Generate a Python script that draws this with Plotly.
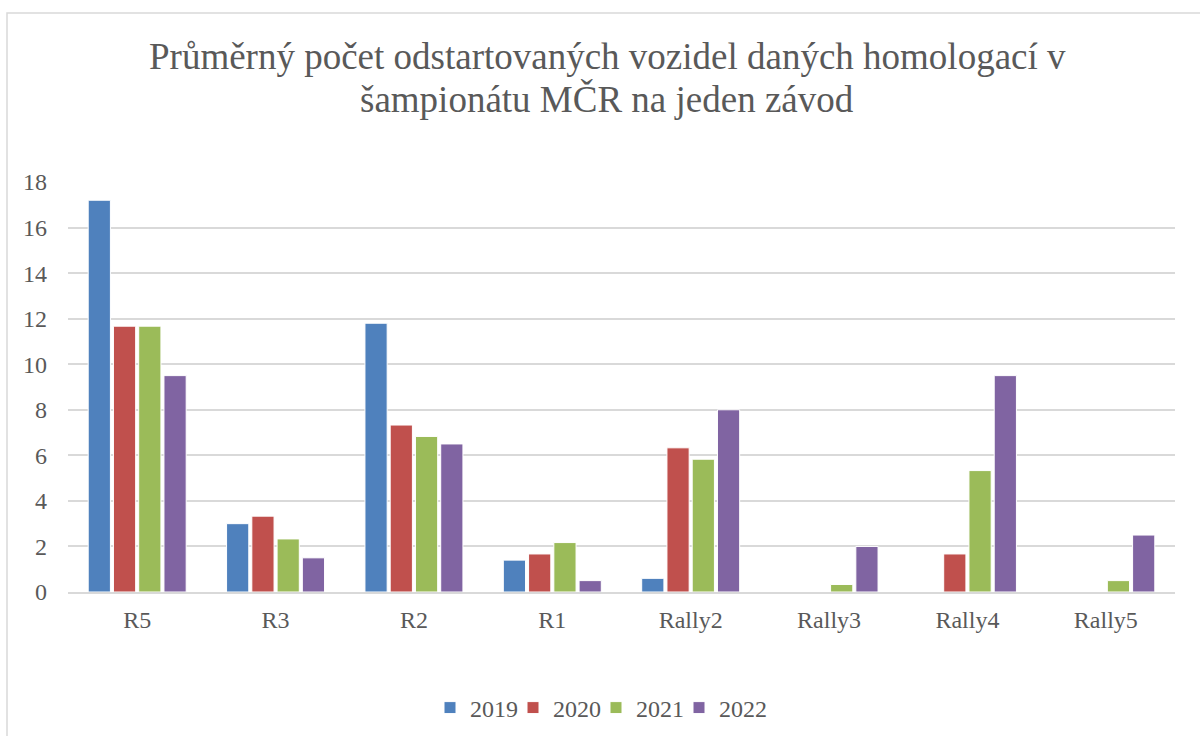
import plotly.graph_objects as go

categories = ["R5", "R3", "R2", "R1", "Rally2", "Rally3", "Rally4", "Rally5"]
years = ["2019", "2020", "2021", "2022"]
v2019 = [17.2, 3.0, 11.8, 1.4, 0.6, 0, 0, 0]
v2020 = [11.67, 3.33, 7.33, 1.67, 6.33, 0, 1.67, 0]
v2021 = [11.67, 2.33, 6.83, 2.17, 5.83, 0.33, 5.33, 0.5]
v2022 = [9.5, 1.5, 6.5, 0.5, 8.0, 2.0, 9.5, 2.5]
colors = ["#4F81BD", "#C0504D", "#9BBB59", "#8064A2"]
series = [v2019, v2020, v2021, v2022]
title_lines = ["Průměrný počet odstartovaných vozidel daných homologací v",
               "šampionátu MČR na jeden závod"]

font = "Liberation Serif"
fig = go.Figure()
for i, (name, vals, c) in enumerate(zip(years, series, colors)):
    fig.add_trace(go.Bar(x=categories, y=vals, name=name,
                         legendwidth=38 if i < len(years) - 1 else 60,
                         marker=dict(color=c, line=dict(color="white", width=1))))

L, R, T, B = 68, 25, 182, 144
W, H = 1200, 736
pw, ph = W - L - R, H - T - B

def px(x):
    return (x - L) / pw

def py(y):
    return (H - B - y) / ph

annotations = []
for line, yc in zip(title_lines, [57, 99]):
    annotations.append(dict(text=line, xref="paper", yref="paper", x=px(607), y=py(yc),
                            xanchor="center", yanchor="middle", showarrow=False,
                            font=dict(family=font, size=37, color="#595959")))

fig.update_layout(
    width=W, height=H,
    margin=dict(l=L, r=R, t=T, b=B, autoexpand=False),
    paper_bgcolor="white", plot_bgcolor="white",
    font=dict(family=font, color="#595959", size=24),
    barmode="group", bargap=0.27, bargroupgap=0.12,
    legend=dict(orientation="h", x=px(430), xanchor="left", y=py(708), yanchor="middle",
                font=dict(family=font, size=24, color="#595959"), traceorder="normal",
                itemwidth=30),
    showlegend=True,
    annotations=annotations,
    shapes=[dict(type="rect", xref="paper", yref="paper",
                 x0=px(7), x1=px(1210), y0=py(745), y1=py(13),
                 line=dict(color="#D9D9D9", width=1.5), layer="below")],
)
fig.update_yaxes(range=[0, 18], dtick=2, showgrid=True, gridcolor="#D9D9D9", gridwidth=1.5,
                 zeroline=False, showline=False, ticks="", ticklabelstandoff=20,
                 tickfont=dict(family=font, size=24, color="#595959"))
fig.update_xaxes(showline=True, linecolor="#D9D9D9", linewidth=1.5, ticks="",
                 ticklabelstandoff=5, tickfont=dict(family=font, size=24, color="#595959"))

fig.write_html("out.html", config={"displayModeBar": False},
               post_script="document.body.style.margin='0px';")
